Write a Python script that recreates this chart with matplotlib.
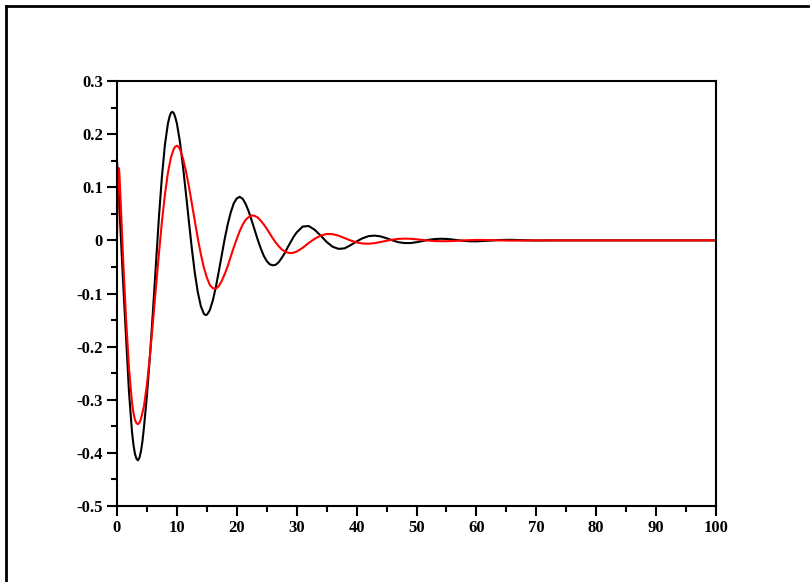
import matplotlib
matplotlib.use('Agg')
import matplotlib.pyplot as plt
from matplotlib.lines import Line2D

# black curve
t_black = [0, 0.25, 0.5, 1.0, 1.5, 2.0, 2.5, 2.75, 3.0, 3.25, 3.5, 3.75, 4.0, 4.25,
           4.5, 5.0, 5.5, 6.0, 6.5, 7.0, 7.5, 8.0, 8.5, 8.75, 9.0, 9.25, 9.5, 9.75,
           10.0, 10.5, 11.0, 11.5, 12.0, 12.5, 13.0, 13.5, 14.0, 14.5, 14.75, 15.0,
           15.25, 15.5, 16.0, 16.5, 17.0, 17.5, 18.0, 18.5, 19.0,
           19.5, 20.0, 20.5, 21.0, 21.5, 22.0, 22.5, 23.0, 23.5, 24.0, 24.5, 25.0,
           25.5, 26.0, 26.5, 27.0, 27.5, 28.0, 28.5, 29.0, 29.5, 30.0,
           31, 32, 33, 34, 35, 36, 37, 38, 39, 40, 41, 42, 43, 44, 45, 46, 47, 48,
           49, 50, 51, 52, 53, 54, 55, 56, 57, 58, 59, 60, 62, 64, 66, 68, 70, 72, 100]
y_black = [0.150, 0.095, 0.040, -0.075, -0.180, -0.285, -0.360, -0.385, -0.402,
           -0.411, -0.414, -0.409, -0.397, -0.378, -0.352, -0.292, -0.218, -0.133,
           -0.045, 0.044, 0.120, 0.180, 0.220, 0.232, 0.240, 0.242, 0.239, 0.231,
           0.220, 0.186, 0.141, 0.089, 0.036, -0.016, -0.062, -0.098, -0.124,
           -0.138, -0.1405, -0.140, -0.136, -0.131, -0.113,
           -0.088, -0.058, -0.027, 0.004, 0.031, 0.053, 0.070, 0.079, 0.082, 0.078,
           0.068, 0.054, 0.037, 0.019, 0.001, -0.015, -0.029, -0.039, -0.045,
           -0.047, -0.046, -0.041, -0.033, -0.024, -0.013, -0.003, 0.007, 0.015,
           0.026, 0.027, 0.020, 0.009, -0.003, -0.012, -0.016, -0.015, -0.009,
           -0.002, 0.004, 0.008, 0.009, 0.0075, 0.004, 0.0, -0.0035, -0.005,
           -0.005, -0.0035, -0.0013, 0.001, 0.0025, 0.003, 0.0027, 0.0016, 0.0002,
           -0.001, -0.0017, -0.0018, -0.0006, 0.0008, 0.001, 0.0003, -0.0003, 0.0, 0.0]

# red curve
t_red = [0, 0.1, 0.2, 0.3, 0.4, 0.6, 0.8, 1.0, 1.5, 2.0, 2.5, 2.75, 3.0, 3.25, 3.5,
         3.75, 4.0, 4.5, 5.0, 5.5, 6.0, 6.5, 7.0, 7.5, 8.0, 8.5, 9.0, 9.5, 9.75,
         10.0, 10.25, 10.5, 11.0, 11.5,
         12.0, 12.5, 13.0, 13.5, 14.0, 14.5, 15.0, 15.5, 16.0, 16.5, 17.0, 17.5,
         18.0, 18.5, 19.0, 19.5, 20.0, 20.5, 21.0, 21.5, 22.0, 22.5, 23.0, 23.5,
         24.0, 24.5, 25.0, 25.5, 26.0, 26.5, 27.0, 27.5, 28.0, 28.5, 29.0, 29.5, 30.0,
         31, 32, 33, 34, 35, 36, 37, 38, 39, 40, 41, 42, 43, 44, 45, 46, 47, 48, 49,
         50, 51, 52, 53, 54, 55, 56, 57, 58, 60, 62, 64, 66, 70, 100]
y_red = [0.0, 0.075, 0.122, 0.136, 0.126, 0.076, 0.024, -0.030, -0.145, -0.240,
         -0.305, -0.325, -0.338, -0.344, -0.346, -0.343, -0.336, -0.312, -0.271,
         -0.217, -0.154, -0.089, -0.025, 0.035, 0.086, 0.127, 0.156, 0.173, 0.1765,
         0.178, 0.1765, 0.172, 0.155, 0.131,
         0.102, 0.069, 0.036, 0.003, -0.026, -0.051, -0.070, -0.084, -0.090, -0.091,
         -0.086, -0.076, -0.063, -0.048, -0.030, -0.013, 0.003, 0.018, 0.030, 0.039,
         0.044, 0.047, 0.046, 0.043, 0.037, 0.030, 0.022, 0.013, 0.004, -0.004,
         -0.011, -0.017, -0.021, -0.023, -0.024, -0.023, -0.021,
         -0.014, -0.005, 0.003, 0.009, 0.012, 0.0117, 0.0088, 0.0043, -0.0002,
         -0.0038, -0.0059, -0.0063, -0.0052, -0.0031, -0.0007, 0.0014, 0.0028,
         0.0033, 0.003, 0.002, 0.0008, -0.0004, -0.0012, -0.0016, -0.0016, -0.0012,
         -0.0006, 0.0, 0.0009, 0.0006, -0.0001, -0.0005, 0.0, 0.0]

x_ticks = [0, 10, 20, 30, 40, 50, 60, 70, 80, 90, 100]
x_labels = ['0', '10', '20', '30', '40', '50', '60', '70', '80', '90', '100']
y_ticks = [0.3, 0.2, 0.1, 0, -0.1, -0.2, -0.3, -0.4, -0.5]
y_labels = ['0.3', '0.2', '0.1', '0', '-0.1', '-0.2', '-0.3', '-0.4', '-0.5']

font = {'family': 'Liberation Serif', 'weight': 'bold', 'size': 12}

fig = plt.figure(figsize=(8.1, 5.82), dpi=100)
ax = fig.add_axes([117 / 810, 1 - 506 / 582, 599 / 810, 425 / 582])

ax.plot(t_black, y_black, color='black', lw=1.5)
ax.plot(t_red, y_red, color='red', lw=1.5)

ax.set_xlim(0, 100)
ax.set_ylim(-0.5, 0.3)
ax.set_xticks(x_ticks)
ax.set_xticklabels(x_labels, fontdict=font)
ax.set_xticks([5 + 10 * i for i in range(10)], minor=True)
ax.set_yticks(y_ticks)
ax.set_yticklabels(y_labels, fontdict=font)
ax.set_yticks([0.25, 0.15, 0.05, -0.05, -0.15, -0.25, -0.35, -0.45], minor=True)

ax.tick_params(which='major', direction='out', length=7, width=1.5, pad=3)
ax.tick_params(which='minor', direction='out', length=4, width=1.5)
ax.tick_params(axis='x', which='both', top=False)
ax.tick_params(axis='y', which='both', right=False)
for s in ax.spines.values():
    s.set_linewidth(1.5)

# outer frame (top and left edges only are visible)
fig.add_artist(Line2D([5.5 / 810, 1], [1 - 5.5 / 582, 1 - 5.5 / 582], color='black', lw=2))
fig.add_artist(Line2D([5.5 / 810, 5.5 / 810], [1 - 5.5 / 582, 0], color='black', lw=2))

plt.savefig('out.png', dpi=100)
